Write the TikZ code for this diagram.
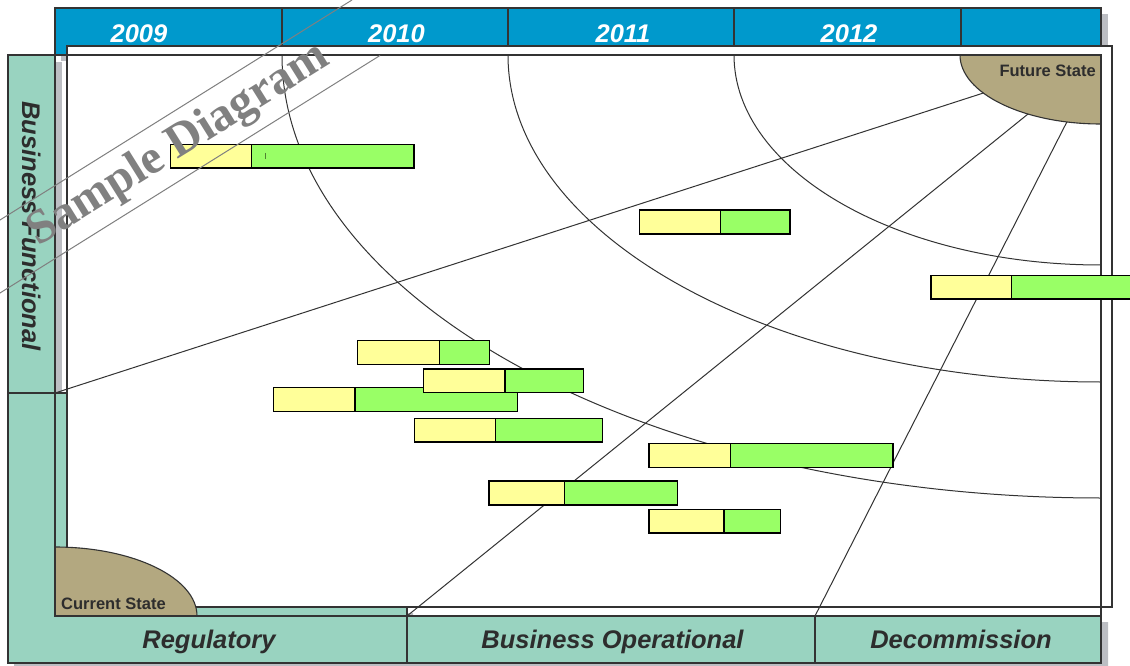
\documentclass[tikz,border=0pt]{standalone}
\usepackage{fontspec}
\setmainfont{Liberation Sans}
\newfontfamily\markfont{Liberation Serif}

\definecolor{bandblue}{RGB}{0,153,204}
\definecolor{bandteal}{RGB}{153,211,192}
\definecolor{statekhaki}{RGB}{179,168,128}
\definecolor{edge}{RGB}{51,51,51}
\definecolor{shade}{RGB}{188,190,195}
\definecolor{plan}{RGB}{255,255,153}
\definecolor{done}{RGB}{153,255,102}
\definecolor{labeltext}{RGB}{45,45,45}
\definecolor{markgray}{RGB}{128,128,128}
\definecolor{tickgreen}{RGB}{80,130,50}

\tikzset{
  shadowbox/.style={fill=shade, draw=none},
  header/.style={fill=bandblue, draw=edge, line width=1.1pt},
  axisband/.style={fill=bandteal, draw=edge, line width=1.1pt},
  sheet/.style={fill=white, draw=edge, line width=1.1pt},
  outline/.style={draw=edge, line width=1.1pt},
  guide/.style={draw=edge, line width=1pt},
  stateshape/.style={fill=statekhaki, draw=edge, line width=1.1pt},
  planpart/.style={fill=plan, draw=black, line width=1.4pt},
  donepart/.style={fill=done, draw=black, line width=1.4pt},
  yearlabel/.style={text=white, anchor=base, inner sep=0pt,
    font=\fontsize{25.5}{30}\selectfont\bfseries\itshape},
  axislabel/.style={text=labeltext, anchor=base, inner sep=0pt,
    font=\fontsize{25.5}{30}\selectfont\bfseries\itshape},
  statelabel/.style={text=labeltext, inner sep=0pt,
    font=\fontsize{16.5}{20}\selectfont\bfseries},
  watermark/.style={text=markgray, anchor=base, inner sep=0pt,
    font=\markfont\fontsize{48}{56}\selectfont\bfseries},
}

\begin{document}
\begin{tikzpicture}[x=1pt, y=-1pt]
\useasboundingbox (0,0) rectangle (1130,666);

% drop shadows of the axis bands
\fill[shadowbox] (61,14) rectangle (1108,61);
\fill[shadowbox] (15,62) rectangle (62,400);
\fill[shadowbox] (14,399) -- (73,399) -- (73,613) -- (413,613)
  -- (413,622) -- (1108,622) -- (1108,670) -- (14,670) -- cycle;

% year header
\draw[header] (55,8) rectangle (1101,55);
\foreach \xd in {282,508,734,961}
  \draw[outline] (\xd,8) -- (\xd,55);

% white roadmap sheet
\draw[sheet] (67,46) rectangle (1112,607);

% anchor points of the guides
\coordinate (hub) at (1101,55);
\coordinate (funccorner) at (55,393);
\coordinate (regcorner) at (407,616);
\coordinate (opcorner) at (815,616);

% concentric year arcs around the future state
\begin{scope}
  \clip (55,55) rectangle (1101,616);
  \draw[guide] (hub) ellipse [x radius=819, y radius=443];
  \draw[guide] (hub) ellipse [x radius=593, y radius=327];
  \draw[guide] (hub) ellipse [x radius=367, y radius=210];
\end{scope}

% radial guides from the band corners
\draw[guide] (funccorner) -- (hub);
\draw[guide] (regcorner) -- (hub);
\draw[guide] (opcorner) -- (hub);

% future state quadrant
\begin{scope}
  \clip (958,55) rectangle (1101,126);
  \draw[stateshape] (hub) ellipse [x radius=141, y radius=69];
\end{scope}

% axis bands
\draw[axisband] (8,55) rectangle (55,393);
\draw[axisband] (8,393) -- (67,393) -- (67,607) -- (407,607)
  -- (407,663) -- (8,663) -- cycle;
\draw[axisband] (407,616) rectangle (815,663);
\draw[axisband] (815,616) rectangle (1101,663);

% current state quadrant
\begin{scope}
  \clip (55,545) rectangle (199,616);
  \draw[stateshape] (55,616) ellipse [x radius=142, y radius=69];
\end{scope}

% inner frame of the roadmap area
\draw[outline] (55,55) rectangle (1101,616);

% initiative bars: start / split / end / top
\foreach \xa/\xb/\xc/\yt in {
    170.3/251.3/414/144.3,
    639.3/720.7/790/210,
    931/1011.7/1140/275.3,
    357.7/439.3/489.3/340.7,
    273.3/355/517.3/387.7,
    423.7/505/583.3/368.8,
    414.3/495.7/602.3/418.3,
    649/730.3/893/443.7,
    489/564.7/677.3/481,
    649/724/780.7/509.3} {
  \draw[donepart] (\xb,\yt) rectangle (\xc,{\yt+23.8});
  \draw[planpart] (\xa,\yt) rectangle (\xb,{\yt+23.8});
}
\draw[tickgreen, line width=1pt] (265,153) -- (265,159);

% year labels
\node[yearlabel] (y2009) at (139,42.7) {2009};
\node[yearlabel] (y2010) at (396.5,42.7) {2010};
\node[yearlabel] (y2011) at (623,42.7) {2011};
\node[yearlabel] (y2012) at (849,42.7) {2012};

% axis labels
\node[axislabel] (regulatory) at (209,648) {Regulatory};
\node[axislabel] (operational) at (612.5,648) {Business Operational};
\node[axislabel] (decommission) at (961,648) {Decommission};
\node[axislabel, rotate=-90] (functional) at (22,226) {Business Functional};

% state labels
\node[statelabel, anchor=base west] (current) at (61,609) {Current State};
\node[statelabel, anchor=base east] (future) at (1096,77) {Future State};

% sample watermark
\draw[markgray, line width=1pt] (-5,223.1) -- (352,0);
\draw[markgray, line width=1pt] (-5,296.1) -- (380,55.5);
\node[watermark, rotate=32] (sample) at (185,155) {Sample Diagram};

\end{tikzpicture}
\end{document}
